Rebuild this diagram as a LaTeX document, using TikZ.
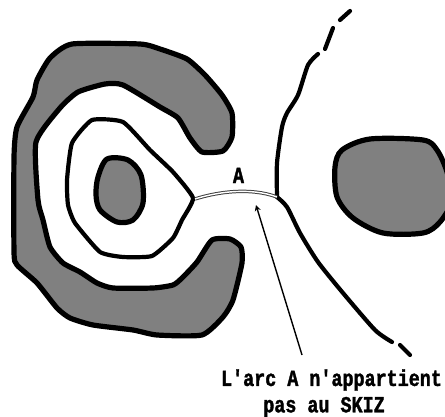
\documentclass[tikz,border=0pt]{standalone}
\usepackage{fontspec}
\setmonofont[BoldFont={Liberation Mono Bold}, BoldFeatures={FakeBold=1.5, FakeStretch=0.8}]{Liberation Mono}
\usetikzlibrary{arrows.meta, positioning}
\definecolor{dithergray}{HTML}{808080}
\begin{document}
\begin{tikzpicture}[x=1pt, y=-1pt, font=\ttfamily\bfseries,
	blob/.style={draw=black, fill=dithergray, line width=5.2pt, line join=round},
	contour/.style={draw=black, line width=4.2pt, line join=round, line cap=round},
	label/.style={inner sep=0pt, font=\ttfamily\bfseries\fontsize{23}{23}\selectfont}]
	\useasboundingbox (0,0) rectangle (445,417);
	\clip (0,0) rectangle (445,417);
	% objects
	\draw[blob] plot[smooth cycle, tension=0.35] coordinates {(72,44) (140,44) (160,49) (187,59) (205,75) (222,95) (232,113) (232,137) (223,151) (202,152) (190,138) (178,118) (160,107) (123,85) (105,84) (78,92) (60,108) (36,142) (38,200) (43,220) (50,247) (63,263) (80,272) (97,283) (113,288) (153,288) (173,285) (182,278) (197,262) (212,240) (230,239) (241,247) (242,263) (233,300) (223,317) (202,335) (157,335) (133,330) (93,325) (70,318) (57,308) (37,283) (17,265) (14,252) (14,157) (17,127) (33,97) (37,80) (50,58)};
	\draw[blob] plot[smooth cycle, tension=0.5] coordinates {(107,159) (128,160) (141,175) (143,203) (133,220) (117,222) (100,210) (96,195) (98,177)};
	\draw[blob] plot[smooth cycle, tension=0.5] coordinates {(335,167) (342,150) (370,139) (423,140) (437,150) (447,172) (452,200) (440,222) (423,233) (383,233) (353,218) (337,197)};
	% ring around the small object
	\draw[contour] plot[smooth cycle, tension=0.3] coordinates {(193,198) (173,172) (150,150) (123,122) (92,120) (72,143) (67,180) (68,205) (75,223) (100,252) (123,257) (152,256) (173,238) (182,220)};
	% long curve, broken at both ends
	\draw[contour] plot[smooth, tension=0.4] coordinates {(350,11) (340,20)};
	\draw[contour] plot[smooth, tension=0.4] coordinates {(333,28) (325,49)};
	\draw[contour] plot[smooth, tension=0.4] coordinates {(318,54) (308,65) (298,95) (287,113) (282,127) (277,163) (277,197)};
	\draw[contour] plot[smooth, tension=0.4] coordinates {(277,197) (287,207) (300,233) (318,262) (343,293) (375,330) (392,342)};
	\draw[contour] plot[smooth, tension=0.4] coordinates {(400,345) (410,355)};
	% arc A
	\coordinate (arcleft) at (195,199);
	\coordinate (arcright) at (277,197);
	\draw[double=white, double distance=1.4pt, line width=1pt, draw=black!75] (arcleft) .. controls (217,192) and (250,187) .. (arcright);
	% labels
	\node[label] (arclabel) at (238.5,175.5) {A};
	\node[label] (line1) at (331.5,380) {L'arc A n'appartient};
	\node[label] (line2) at (324,407) {pas au SKIZ};
	\coordinate (arrowstart) at (302,355);
	\coordinate (arrowend) at (256,205);
	\draw[-{Stealth[length=6pt, width=6pt]}, line width=1.4pt] (arrowstart) -- (arrowend);
\end{tikzpicture}
\end{document}
